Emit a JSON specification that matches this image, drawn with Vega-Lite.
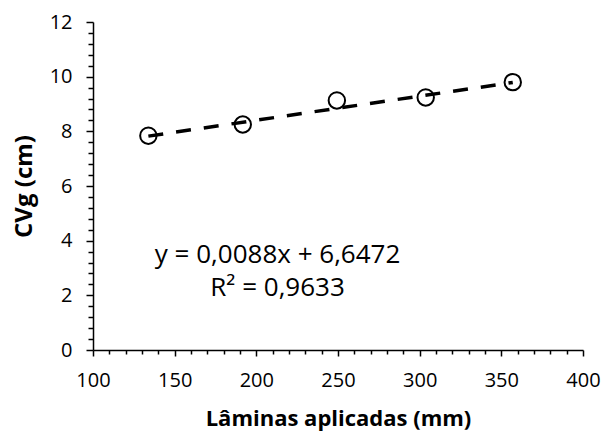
{
  "$schema": "https://vega.github.io/schema/vega-lite/v6.json",
  "width": 490,
  "height": 328,
  "autosize": "none",
  "padding": {"left": 93, "top": 22, "right": 18, "bottom": 82},
  "background": "white",
  "config": {"view": {"stroke": null}, "font": "Open Sans"},
  "datasets": {
    "points": [
      {"x": 133.9, "y": 7.84},
      {"x": 191.7, "y": 8.25},
      {"x": 249.3, "y": 9.13},
      {"x": 303.7, "y": 9.24},
      {"x": 357.0, "y": 9.8}
    ],
    "trend": [
      {"x": 133.9, "y": 7.825},
      {"x": 357.0, "y": 9.789}
    ],
    "eq": [
      {"x": 213, "y": 3.47, "label": "y = 0,0088x + 6,6472"},
      {"x": 213, "y": 2.27, "label": "R² = 0,9633"}
    ]
  },
  "layer": [
    {
      "data": {"name": "trend"},
      "mark": {"type": "line", "color": "black", "strokeWidth": 3.5, "strokeDash": [15, 13]},
      "encoding": {
        "x": {
          "field": "x", "type": "quantitative",
          "scale": {"domain": [100, 400], "nice": false, "zero": false},
          "axis": {
            "title": "Lâminas aplicadas (mm)",
            "values": [100,110,120,130,140,150,160,170,180,190,200,210,220,230,240,250,260,270,280,290,300,310,320,330,340,350,360,370,380,390,400],
            "tickCount": 200,
            "format": "~g",
            "labelExpr": "datum.value % 50 === 0 ? datum.label : ''",
            "tickSize": {"condition": {"test": "datum.value % 50 === 0", "value": 6}, "value": 4},
            "grid": false,
            "domainColor": "black", "domainWidth": 1.5,
            "tickColor": "black", "tickWidth": 1.5,
            "labelFontSize": 20, "labelColor": "black", "labelPadding": 14,
            "labelFlush": false, "labelOverlap": false,
            "titleFontSize": 22, "titleFontWeight": "bold", "titleColor": "black", "titlePadding": 18
          }
        },
        "y": {
          "field": "y", "type": "quantitative",
          "scale": {"domain": [0, 12], "nice": false},
          "axis": {
            "title": "CVg (cm)",
            "values": [0,0.4,0.8,1.2,1.6,2,2.4,2.8,3.2,3.6,4,4.4,4.8,5.2,5.6,6,6.4,6.8,7.2,7.6,8,8.4,8.8,9.2,9.6,10,10.4,10.8,11.2,11.6,12],
            "tickCount": 200,
            "format": "~g",
            "labelExpr": "datum.value % 2 === 0 ? datum.label : ''",
            "tickSize": {"condition": {"test": "datum.value % 2 === 0", "value": 7}, "value": 5},
            "grid": false,
            "domainColor": "black", "domainWidth": 1.5,
            "tickColor": "black", "tickWidth": 1.5,
            "labelFontSize": 20, "labelColor": "black", "labelPadding": 14,
            "labelFlush": false, "labelOverlap": false,
            "titleFontSize": 24, "titleFontWeight": "bold", "titleColor": "black", "titlePadding": 13
          }
        }
      }
    },
    {
      "data": {"name": "points"},
      "mark": {"type": "point", "shape": "circle", "filled": false, "color": "black", "strokeWidth": 2, "size": 270, "opacity": 1},
      "encoding": {
        "x": {"field": "x", "type": "quantitative"},
        "y": {"field": "y", "type": "quantitative"}
      }
    },
    {
      "data": {"name": "eq"},
      "mark": {"type": "text", "fontSize": 26, "align": "center", "baseline": "middle", "color": "black"},
      "encoding": {
        "x": {"field": "x", "type": "quantitative"},
        "y": {"field": "y", "type": "quantitative"},
        "text": {"field": "label"}
      }
    }
  ]
}
